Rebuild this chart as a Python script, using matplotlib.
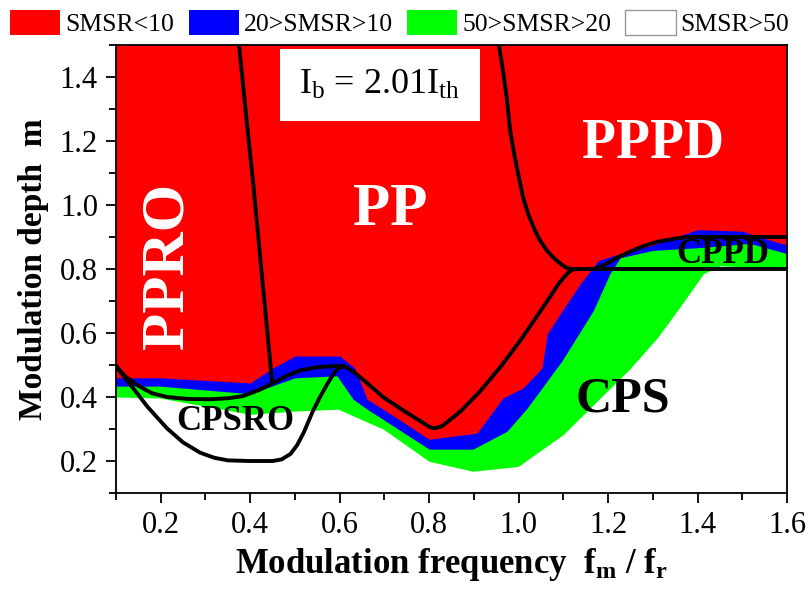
import numpy as np
import matplotlib
matplotlib.use("Agg")
import matplotlib.pyplot as plt
from matplotlib.patches import Patch

plt.rcParams['font.family'] = ['Liberation Serif', 'DejaVu Serif']
plt.rcParams['mathtext.fontset'] = 'custom'
plt.rcParams['mathtext.rm'] = 'Liberation Serif'
plt.rcParams['mathtext.bf'] = 'Liberation Serif:bold'
plt.rcParams['mathtext.it'] = 'Liberation Serif:italic'

# region boundaries (lower edge of each colour band)
red_x = [0.1, 0.198, 0.40, 0.45, 0.50, 0.60, 0.634, 0.661, 0.697, 0.80, 0.907,
         0.965, 1.01, 1.052, 1.064, 1.093, 1.138, 1.178, 1.22, 1.3, 1.4, 1.5, 1.55, 1.6]
red_y = [0.46, 0.46, 0.444, 0.49, 0.528, 0.528, 0.49, 0.393, 0.362, 0.268, 0.287,
         0.397, 0.428, 0.49, 0.597, 0.66, 0.754, 0.826, 0.845, 0.875, 0.923, 0.918, 0.895, 0.875]

blue_x = [0.1, 0.198, 0.40, 0.50, 0.594, 0.63, 0.661, 0.697, 0.80, 0.898, 0.974,
          1.019, 1.097, 1.167, 1.204, 1.227, 1.3, 1.406, 1.517, 1.6]
blue_y = [0.434, 0.434, 0.41, 0.46, 0.466, 0.393, 0.362, 0.33, 0.237, 0.237, 0.293,
          0.365, 0.513, 0.67, 0.785, 0.835, 0.858, 0.867, 0.88, 0.848]

green_x = [0.1, 0.198, 0.40, 0.50, 0.596, 0.697, 0.80, 0.898, 0.999, 1.10, 1.25,
           1.31, 1.36, 1.413, 1.45, 1.6]
green_y = [0.40, 0.397, 0.346, 0.356, 0.362, 0.30, 0.199, 0.168, 0.183, 0.283, 0.49,
           0.585, 0.68, 0.785, 0.81, 0.80]

# black phase boundaries
ppro_x = [0.375, 0.39, 0.406, 0.422, 0.438, 0.449]
ppro_y = [1.5, 1.29, 1.077, 0.84, 0.607, 0.444]

pppd_x = [0.956, 0.965, 0.974, 0.981, 0.99, 1.0, 1.01, 1.022, 1.035, 1.048, 1.062,
          1.078, 1.095, 1.108, 1.12, 1.6]
pppd_y = [1.5, 1.42, 1.33, 1.234, 1.16, 1.09, 1.024, 0.97, 0.925, 0.889, 0.86,
          0.835, 0.815, 0.803, 0.80, 0.80]

upper_x = [0.1, 0.12, 0.15, 0.18, 0.214, 0.26, 0.31, 0.35, 0.384, 0.42, 0.449, 0.48,
           0.511, 0.55, 0.594, 0.612, 0.63, 0.66, 0.697, 0.74, 0.78, 0.80, 0.812,
           0.83, 0.87, 0.914, 0.96, 1.003, 1.035, 1.064, 1.09, 1.108, 1.12, 1.135]
upper_y = [0.497, 0.465, 0.435, 0.412, 0.40, 0.394, 0.393, 0.396, 0.403, 0.422, 0.442,
           0.465, 0.483, 0.493, 0.497, 0.495, 0.48, 0.445, 0.40, 0.36, 0.325, 0.307,
           0.302, 0.31, 0.355, 0.418, 0.495, 0.575, 0.64, 0.70, 0.755, 0.785, 0.798, 0.80]

cpsro_x = [0.1, 0.12, 0.138, 0.17, 0.214, 0.25, 0.288, 0.32, 0.35, 0.40, 0.45, 0.47,
           0.49, 0.505, 0.52, 0.54, 0.556, 0.572, 0.585, 0.596, 0.612]
cpsro_y = [0.497, 0.46, 0.428, 0.37, 0.302, 0.258, 0.226, 0.21, 0.202, 0.2, 0.2, 0.205,
           0.222, 0.25, 0.29, 0.356, 0.40, 0.44, 0.47, 0.49, 0.497]

cppd_x = [1.17, 1.19, 1.22, 1.25, 1.28, 1.31, 1.35, 1.38, 1.6]
cppd_y = [0.80, 0.812, 0.835, 0.855, 0.872, 0.885, 0.895, 0.90, 0.90]

fig = plt.figure(figsize=(8.12, 6.03), dpi=100)
ax = fig.add_axes([0.1429, 0.1824, 0.8263, 0.743])

ax.set_facecolor('#ff0000')
ax.fill_between(red_x, 0, red_y, color='#0000ff', lw=0)
ax.fill_between(blue_x, 0, blue_y, color='#00ff00', lw=0)
ax.fill_between(green_x, 0, green_y, color='white', lw=0)

for xs, ys in [(ppro_x, ppro_y), (pppd_x, pppd_y), (upper_x, upper_y),
               (cpsro_x, cpsro_y), (cppd_x, cppd_y)]:
    ax.plot(xs, ys, color='black', lw=2.8, solid_joinstyle='round',
            solid_capstyle='round')

ax.set_xlim(0.1, 1.6)
ax.set_ylim(0.1, 1.5)
ax.set_xticks(np.arange(0.2, 1.61, 0.2))
ax.set_xticks(np.arange(0.1, 1.61, 0.2), minor=True)
ax.set_yticks(np.arange(0.2, 1.41, 0.2))
ax.set_yticks(np.arange(0.1, 1.51, 0.2), minor=True)
ax.set_xticklabels(['%.1f' % v for v in np.arange(0.2, 1.61, 0.2)])
ax.set_yticklabels(['%.1f' % v for v in np.arange(0.2, 1.41, 0.2)])
ax.tick_params(which='major', direction='out', length=7, width=1.3, labelsize=22, pad=6)
ax.tick_params(which='minor', direction='out', length=5, width=1.3)
for s in ax.spines.values():
    s.set_linewidth(1.3)

ax.set_xlabel(r'Modulation frequency  $\mathbf{f_m}$ / $\mathbf{f_r}$', fontsize=25,
              fontweight='bold', labelpad=4)
ax.set_ylabel('Modulation depth  m', fontsize=24, fontweight='bold', labelpad=8)

# region labels
ax.text(0.216, 0.81, 'PPRO', color='white', fontsize=44, fontweight='bold',
        rotation=90, ha='center', va='center')
ax.text(0.713, 0.983, 'PP', color='white', fontsize=44, fontweight='bold',
        ha='center', va='center')
ax.text(1.30, 1.19, 'PPPD', color='white', fontsize=40, fontweight='bold',
        ha='center', va='center')
ax.text(1.232, 0.393, 'CPS', color='black', fontsize=36, fontweight='bold',
        ha='center', va='center')
ax.text(1.456, 0.845, 'CPPD', color='black', fontsize=25, fontweight='bold',
        ha='center', va='center')
ax.text(0.366, 0.324, 'CPSRO', color='black', fontsize=25, fontweight='bold',
        ha='center', va='center')
ax.text(0.69, 1.375, r'$\mathrm{I_b}$ = 2.01$\mathrm{I_{th}}$', fontsize=26,
        ha='center', va='center',
        bbox=dict(boxstyle='square,pad=0.55', fc='white', ec='none'))

handles = [Patch(fc='#ff0000', ec='none'), Patch(fc='#0000ff', ec='none'),
           Patch(fc='#00ff00', ec='none'), Patch(fc='white', ec='#999999')]
labels = ['SMSR<10', '20>SMSR>10', '50>SMSR>20', 'SMSR>50']
fig.legend(handles, labels, loc='upper left', bbox_to_anchor=(0.0, 1.0), ncol=4,
           frameon=False, fontsize=18.5, handlelength=1.95, handleheight=1.1,
           handletextpad=0.2, columnspacing=0.55, borderaxespad=0.1, borderpad=0.3)

fig.savefig('out.png', dpi=100)
